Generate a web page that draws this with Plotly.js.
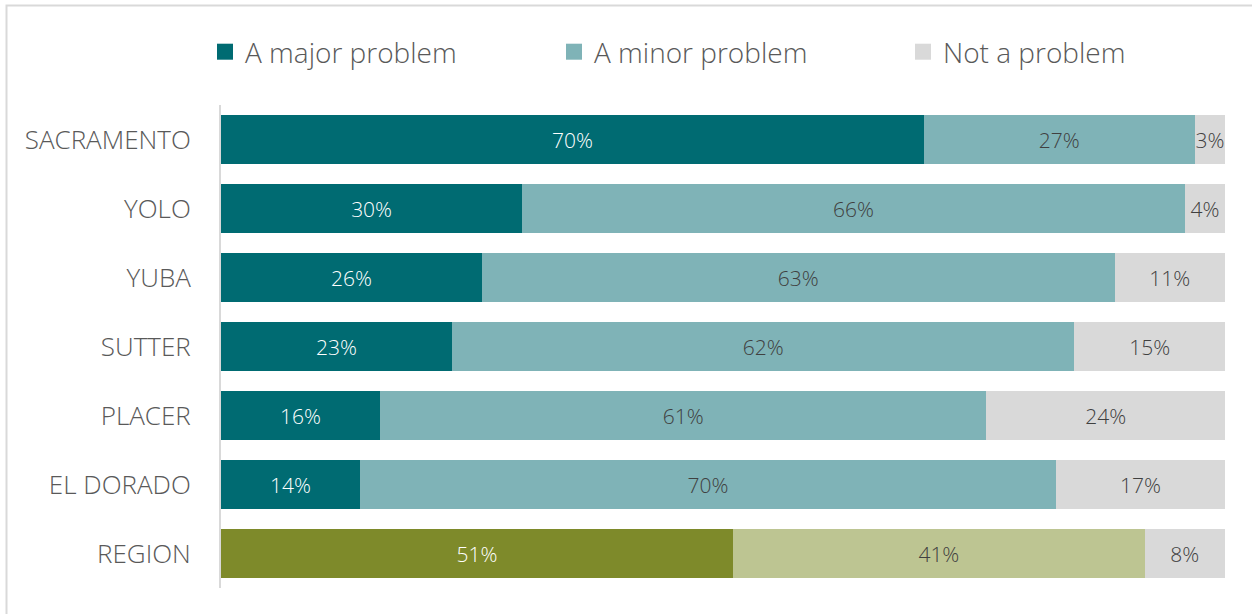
<!DOCTYPE html>
<html><head><meta charset="utf-8">
<script src="https://cdn.plot.ly/plotly-3.0.1.min.js"></script>
<style>html,body{margin:0;padding:0;background:#fff;overflow:hidden}</style>
</head><body><div id="chart" style="width:1252px;height:614px"></div>
<script>
// ---- data ----
const categories = ['SACRAMENTO', 'YOLO', 'YUBA', 'SUTTER', 'PLACER', 'EL DORADO', 'REGION'];
const seriesNames = ['A major problem', 'A minor problem', 'Not a problem'];
const majorProblem = [70, 30, 26, 23, 16, 14, 51];
const minorProblem = [27, 66, 63, 62, 61, 70, 41];
const notProblem = [3, 4, 11, 15, 24, 17, 8];

// ---- styling ----
const FONT = '"Open Sans", "Noto Sans", sans-serif';
const teal = '#006B72', lightTeal = '#7FB3B7', gray = '#D9D9D9';
const olive = '#7E8A2A', lightOlive = '#BDC592';
const isRegion = c => c === 'REGION';

function barTrace(vals, name, colorFn, textColorFn) {
  return {
    type: 'bar', orientation: 'h', name: name, showlegend: false,
    y: categories, x: vals,
    text: vals.map(v => v + '%'),
    textposition: 'inside', insidetextanchor: 'middle', textangle: 0,
    insidetextfont: {family: FONT, size: 21, weight: 300, color: categories.map(textColorFn)},
    marker: {color: categories.map(colorFn), line: {width: 0}},
    hoverinfo: 'skip'
  };
}
const traces = [
  barTrace(majorProblem, seriesNames[0], c => isRegion(c) ? olive : teal, c => '#FFFFFF'),
  barTrace(minorProblem, seriesNames[1], c => isRegion(c) ? lightOlive : lightTeal, c => '#404040'),
  barTrace(notProblem, seriesNames[2], c => gray, c => '#404040')
];
// legend entries (square markers)
[teal, lightTeal, gray].forEach((col, i) => {
  traces.push({type: 'scatter', mode: 'markers', x: [null], y: [null], name: seriesNames[i],
    marker: {symbol: 'square', size: 16, color: col}, showlegend: true, hoverinfo: 'skip'});
});

const L = 221, R = 27, T = 105, B = 26, W = 1252, H = 614;
const pw = W - L - R, ph = H - T - B;
const layout = {
  width: W, height: H,
  margin: {l: L, r: R, t: T, b: B, pad: 0},
  paper_bgcolor: '#FFFFFF', plot_bgcolor: '#FFFFFF',
  barmode: 'stack', barnorm: 'percent', bargap: 0.29,
  uniformtext: {mode: 'show', minsize: 21},
  font: {family: FONT, color: '#595959', weight: 300},
  xaxis: {range: [0, 100], visible: false, fixedrange: true},
  yaxis: {
    type: 'category', autorange: 'reversed',
    showline: true, linecolor: '#D9D9D9', linewidth: 2,
    ticks: 'outside', ticklen: 23, tickcolor: 'rgba(0,0,0,0)',
    tickfont: {family: FONT, size: 26, color: '#595959', weight: 300},
    showgrid: false, zeroline: false
  },
  showlegend: true,
  legend: {
    orientation: 'h', x: (216 - L) / pw, xanchor: 'left', y: 1 + (T - 52) / ph, yanchor: 'middle',
    entrywidth: 304, entrywidthmode: 'pixels',
    font: {family: FONT, size: 28, color: '#595959', weight: 300},
    bgcolor: 'rgba(0,0,0,0)', traceorder: 'normal'
  },
  shapes: [{
    type: 'rect', xref: 'paper', yref: 'paper',
    x0: (6.5 - L) / pw, x1: 2, y0: -1, y1: 1 + (T - 5.5) / ph,
    line: {color: '#D9D9D9', width: 2}, fillcolor: 'rgba(0,0,0,0)', layer: 'below'
  }]
};
Plotly.newPlot('chart', traces, layout, {displayModeBar: false, staticPlot: true});
</script></body></html>
